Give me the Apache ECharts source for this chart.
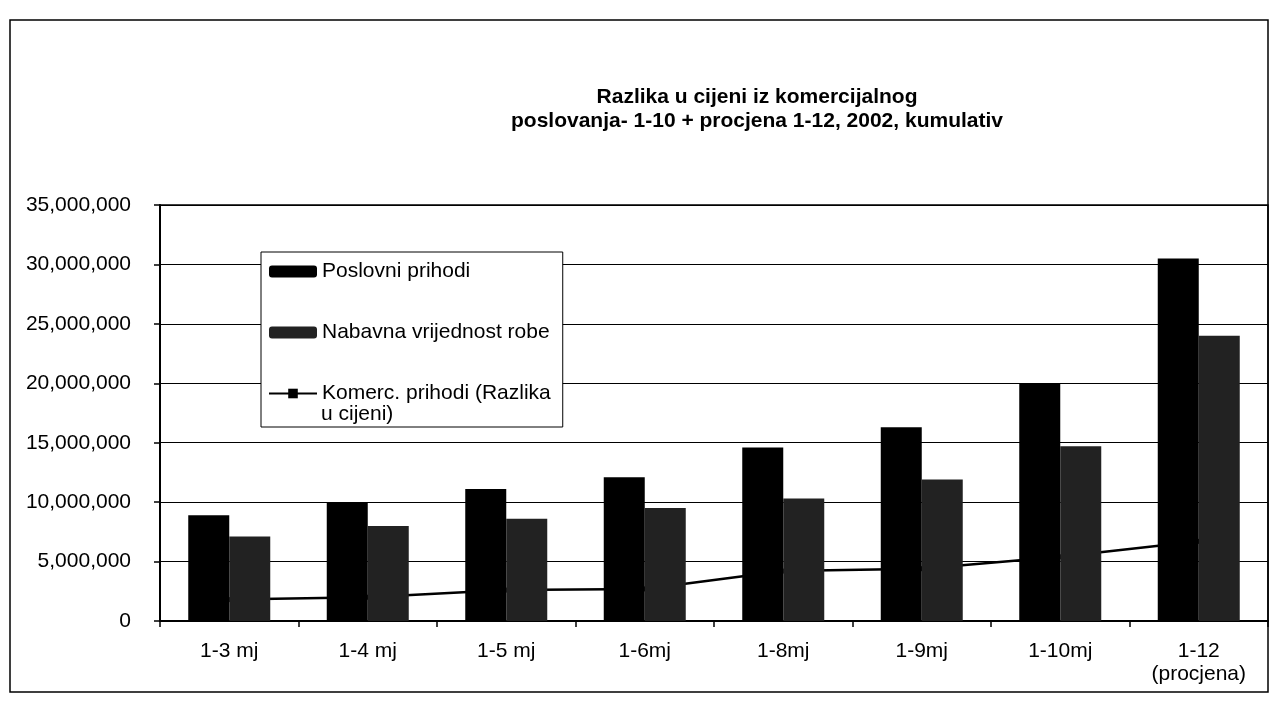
<!DOCTYPE html>
<html>
<head>
<meta charset="utf-8">
<script src="https://cdn.jsdelivr.net/npm/echarts@6/dist/echarts.min.js"></script>
<style>
  html, body { margin: 0; padding: 0; background: #fff; }
  #chart { width: 1278px; height: 702px; }
</style>
</head>
<body>
<div id="chart"></div>
<script>
// podaci (ocitano sa slike)
const categories = ['1-3 mj', '1-4 mj', '1-5 mj', '1-6mj', '1-8mj', '1-9mj', '1-10mj', '1-12\n(procjena)'];
const poslovniPrihodi = [8900000, 10000000, 11100000, 12100000, 14600000, 16300000, 20000000, 30500000];
const nabavnaVrijednost = [7100000, 8000000, 8600000, 9500000, 10300000, 11900000, 14700000, 24000000];
const komercPrihodi = [1800000, 2000000, 2600000, 2700000, 4200000, 4400000, 5400000, 6700000];
const seriesNames = ['Poslovni prihodi', 'Nabavna vrijednost robe', 'Komerc. prihodi (Razlika u cijeni)'];

const font = "'Liberation Sans', Arial, sans-serif";

const chart = echarts.init(document.getElementById('chart'));

chart.setOption({
  animation: false,
  backgroundColor: '#fff',
  title: {
    text: 'Razlika u cijeni iz komercijalnog\nposlovanja- 1-10 + procjena 1-12, 2002, kumulativ',
    left: 752,
    top: 80,
    textAlign: 'center',
    textStyle: { fontFamily: font, fontSize: 21, fontWeight: 'bold', color: '#000', lineHeight: 24 }
  },
  legend: {
    orient: 'vertical',
    left: 261,
    top: 252,
    padding: [9, 12, 23, 7],
    itemGap: 40,
    itemWidth: 48,
    itemHeight: 12,
    borderColor: '#000',
    borderWidth: 1,
    backgroundColor: '#fff',
    data: seriesNames,
    formatter: (name) => name === seriesNames[2] ? 'Komerc. prihodi (Razlika' : name,
    textStyle: { fontFamily: font, fontSize: 21, color: '#000' }
  },
  graphic: [
    {
      type: 'rect',
      z: -10,
      silent: true,
      shape: { x: 10, y: 20, width: 1258, height: 672 },
      style: { fill: 'none', stroke: '#000', lineWidth: 1.5 }
    },
    {
      // drugi red legende
      type: 'text',
      z: 100,
      left: 321,
      top: 404,
      style: { text: 'u cijeni)', fontFamily: font, fontSize: 21, fill: '#000' }
    }
  ],
  grid: {
    left: 160,
    right: 10,
    top: 205,
    bottom: 81,
    show: true,
    borderColor: '#000',
    borderWidth: 1.5,
    containLabel: false
  },
  xAxis: {
    type: 'category',
    data: categories,
    boundaryGap: true,
    axisLine: { lineStyle: { color: '#000', width: 2 } },
    axisTick: { show: true, length: 6, lineStyle: { color: '#000', width: 1.5 } },
    axisLabel: { fontFamily: font, fontSize: 21, color: '#000', margin: 19, lineHeight: 23, interval: 0 },
    splitLine: { show: false }
  },
  yAxis: {
    type: 'value',
    min: 0,
    max: 35000000,
    interval: 5000000,
    axisLine: { show: true, lineStyle: { color: '#000', width: 2 } },
    axisTick: { show: true, length: 6, lineStyle: { color: '#000', width: 1.5 } },
    axisLabel: {
      fontFamily: font, fontSize: 21, color: '#000', margin: 29,
      formatter: (v) => String(v).replace(/\B(?=(\d{3})+(?!\d))/g, ',')
    },
    splitLine: { show: true, lineStyle: { color: '#000', width: 1 } }
  },
  series: [
    {
      name: seriesNames[0],
      type: 'bar',
      data: poslovniPrihodi,
      barWidth: 41,
      barGap: '0%',
      itemStyle: { color: '#000' },
      z: 3
    },
    {
      name: seriesNames[1],
      type: 'bar',
      data: nabavnaVrijednost,
      barWidth: 41,
      barGap: '0%',
      itemStyle: { color: '#222' },
      z: 3
    },
    {
      name: seriesNames[2],
      type: 'line',
      data: komercPrihodi,
      symbol: 'rect',
      symbolSize: [10, 5],
      lineStyle: { color: '#000', width: 2.5 },
      itemStyle: { color: '#000' },
      z: 2
    }
  ]
});
</script>
</body>
</html>
